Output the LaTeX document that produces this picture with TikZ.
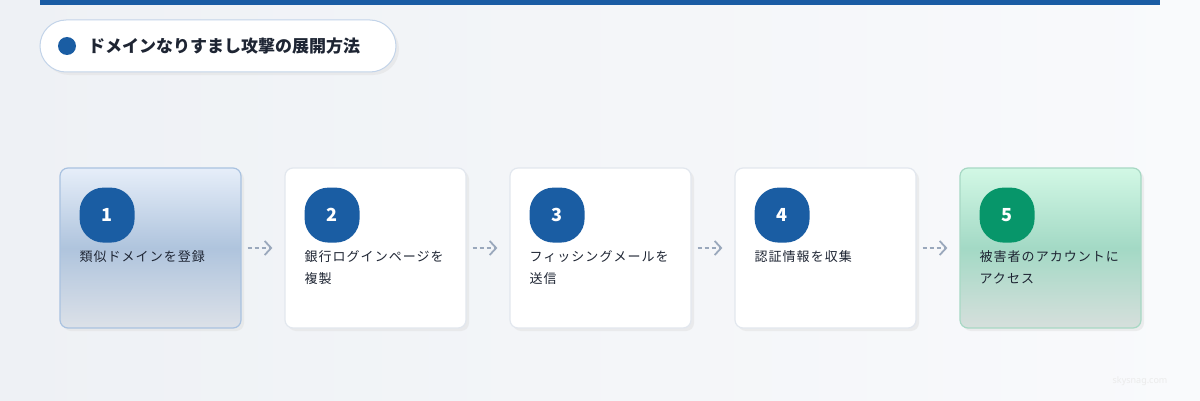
\documentclass[tikz,border=0pt]{standalone}
\usepackage{fontspec}
\newfontfamily\jp{Noto Sans CJK JP}
\newfontfamily\wm{Noto Sans}
\usepackage{tikz}
\usetikzlibrary{arrows.meta,positioning,shadows}

\definecolor{bgA}{HTML}{EEF1F5}
\definecolor{bgB}{HTML}{F9FAFC}
\definecolor{topbar}{HTML}{1A5CA4}
\definecolor{badgeblue}{HTML}{1A5DA3}
\definecolor{badgegreen}{HTML}{07966A}
\definecolor{cardline}{HTML}{E2E7EE}
\definecolor{blueline}{HTML}{A9C2E0}
\definecolor{blueA}{HTML}{E6EEF9}
\definecolor{blueB}{HTML}{AFC4DD}
\definecolor{blueC}{HTML}{DCE1E8}
\definecolor{greenline}{HTML}{A7D8C4}
\definecolor{greenA}{HTML}{D2F8E5}
\definecolor{greenB}{HTML}{A3D9C5}
\definecolor{greenC}{HTML}{D6DFDC}
\definecolor{flowgray}{HTML}{9AA8BC}
\definecolor{textdark}{HTML}{1E2533}

\begin{document}
\begin{tikzpicture}[x=1pt,y=1pt,node distance=42.8pt,
    card/.style={draw=cardline,line width=1.2pt,fill=white,rounded corners=8pt,
      minimum width=181pt,minimum height=160pt,inner sep=0pt,
      drop shadow={shadow xshift=3pt,shadow yshift=-3pt,fill=black!12,opacity=.5}},
    bluecard/.style={card,draw=blueline,top color=blueA,bottom color=blueC,middle color=blueB},
    greencard/.style={card,draw=greenline,top color=greenA,bottom color=greenC,middle color=greenB},
    badge/.style={fill=badgeblue,rounded corners=24pt,minimum size=55pt,inner sep=0pt,
      text=white,font=\jp\fontsize{18}{18}\selectfont\bfseries},
    steptext/.style={anchor=north west,align=left,inner sep=0pt,text=textdark,
      font=\jp\fontsize{13}{22}\selectfont\addfontfeature{LetterSpace=8}},
    flow/.style={draw=flowgray,line width=1.5pt,dash pattern=on 4pt off 3pt,
      shorten <=6pt,shorten >=12pt,
      -{Straight Barb[length=6.5pt,width=14pt,line width=1.8pt]}}]
%    background and frame
    \shade[left color=bgA,right color=bgB] (0,0) rectangle (1200,400);
    \fill[topbar] (40,395) rectangle (1160,400);

    \node[draw=blueline!70!white,line width=1pt,fill=white,rounded corners=26pt,
      minimum width=356pt,minimum height=52pt,
      drop shadow={shadow xshift=3pt,shadow yshift=-3pt,fill=black!12,opacity=.5}]
      (title) at (218,354) {};
    \fill[badgeblue] (67,354) circle (9);
    \node[anchor=west,inner sep=0pt,text=textdark,font=\jp\fontsize{17}{17}\selectfont\bfseries]
      (titletext) at (88,354) {ドメインなりすまし攻撃の展開方法};

    \node[bluecard]  (c1) at (150.5,152) {};
    \node[card]      (c2) [right=of c1] {};
    \node[card]      (c3) [right=of c2] {};
    \node[card]      (c4) [right=of c3] {};
    \node[greencard] (c5) [right=of c4] {};

    \node[badge] (b1) [below right=20pt and 20pt of c1.north west] {1};
    \node[badge] (b2) [below right=20pt and 20pt of c2.north west] {2};
    \node[badge] (b3) [below right=20pt and 20pt of c3.north west] {3};
    \node[badge] (b4) [below right=20pt and 20pt of c4.north west] {4};
    \node[badge,fill=badgegreen] (b5) [below right=20pt and 20pt of c5.north west] {5};

    \node[steptext] (t1) at ([yshift=-8pt]b1.south west) {類似ドメインを登録};
    \node[steptext] (t2) at ([yshift=-8pt]b2.south west) {銀行ログインページを\\複製};
    \node[steptext] (t3) at ([yshift=-8pt]b3.south west) {フィッシングメールを\\送信};
    \node[steptext] (t4) at ([yshift=-8pt]b4.south west) {認証情報を収集};
    \node[steptext] (t5) at ([yshift=-8pt]b5.south west) {被害者のアカウントに\\アクセス};

    \path
    (c1) edge[flow] (c2)
    (c2) edge[flow] (c3)
    (c3) edge[flow] (c4)
    (c4) edge[flow] (c5);

    \node[text=black!8,font=\wm\fontsize{9}{9}\selectfont] (mark) at (1140,19) {skysnag.com};
\end{tikzpicture}
\end{document}
